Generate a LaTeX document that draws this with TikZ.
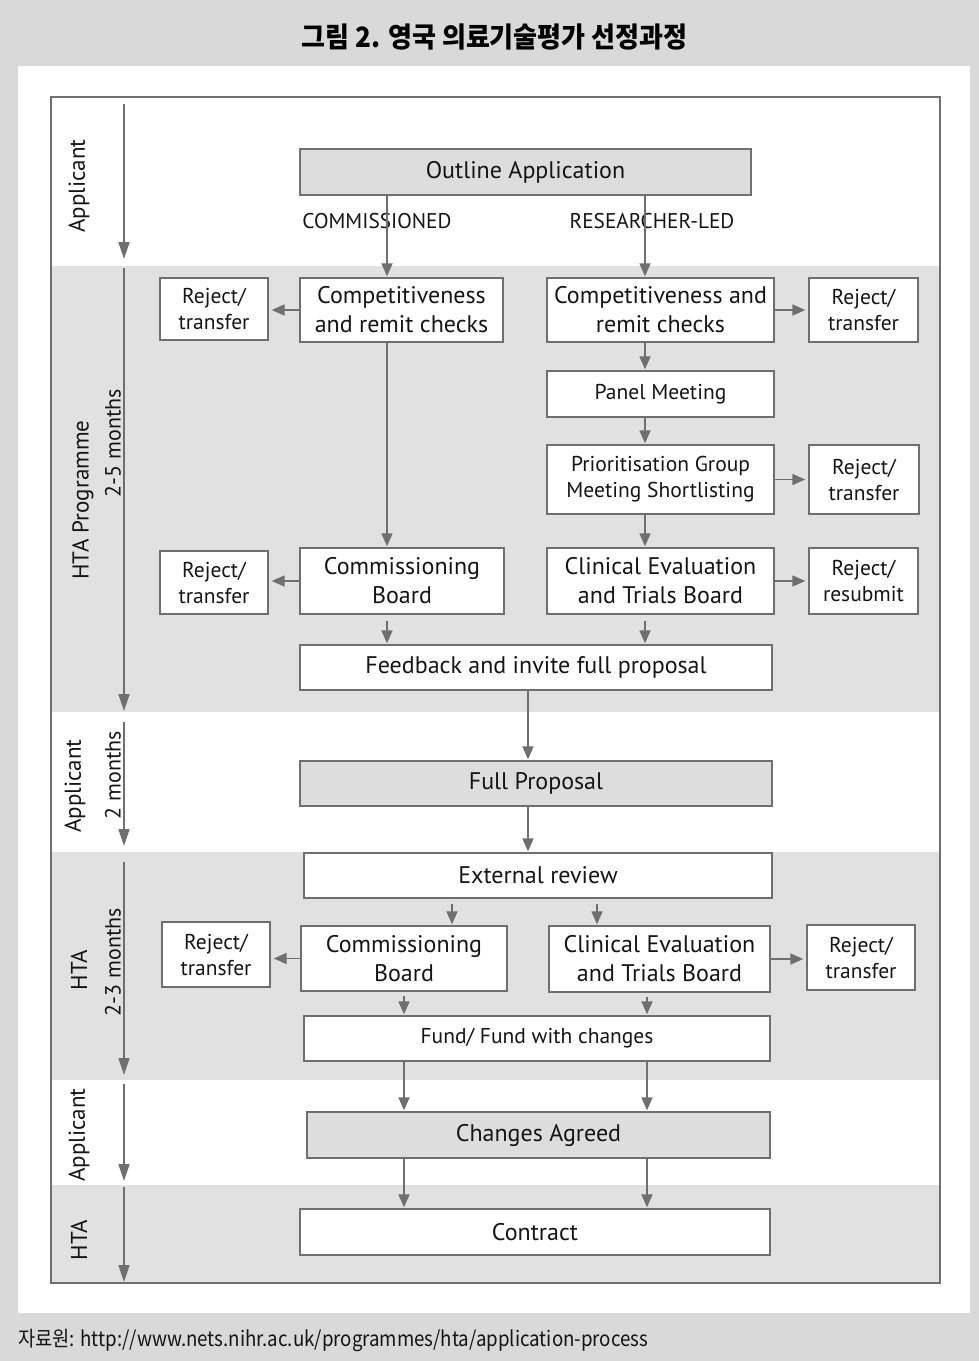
\documentclass[tikz,border=0pt]{standalone}
\usepackage{fontspec}
\setmainfont{PT Sans}
\newfontfamily\kor{Noto Sans CJK KR}
\usetikzlibrary{arrows.meta}
\definecolor{bgc}{HTML}{D9D9D9}
\definecolor{bandc}{HTML}{E1E1E1}
\definecolor{boxg}{HTML}{DDDDDD}
\definecolor{lc}{HTML}{6F6F6F}
\definecolor{txt}{HTML}{151515}
\tikzset{
  box/.style={draw=lc, line width=1.4pt, fill=white, inner sep=0pt, align=center, text=txt,
     font=\fontsize{24}{29}\selectfont},
  gbox/.style={box, fill=boxg},
  sbox/.style={box, font=\fontsize{21.5}{26}\selectfont},
  arr/.style={draw=lc, line width=1.8pt, -{Triangle[length=13pt,width=11pt]}, shorten >=1pt},
  tline/.style={draw=lc, line width=1.6pt, -{Triangle[length=17pt,width=11pt]}},
  lab/.style={rotate=90, text=txt, font=\fontsize{23}{26}\selectfont},
  dur/.style={rotate=90, text=txt, font=\fontsize{22}{24}\selectfont},
  brl/.style={text=txt, font=\fontsize{21.3}{24}\selectfont}
}
\begin{document}
\begin{tikzpicture}[x=1pt,y=-1pt]
\useasboundingbox (0,0) rectangle (979,1361);
\fill[bgc] (0,0) rectangle (979,1361);
\fill[white] (18,66) rectangle (970,1313);
% bands
\fill[bandc] (51,266) rectangle (940,712);
\fill[bandc] (51,852) rectangle (940,1080);
\fill[bandc] (51,1185) rectangle (940,1283);
\draw[lc, line width=1.6pt] (51,97) rectangle (940,1283);

% title and source
\node[font=\kor\bfseries\fontsize{28}{30}\selectfont, text=black] (title) at (494.5,37) {\scalebox{0.93}[1]{그림 2. 영국 의료기술평가 선정과정}};
\node[anchor=west, font=\kor\fontsize{21}{24}\selectfont, text=txt, inner sep=0pt] (src) at (18,1340) {\scalebox{0.89}[1]{자료원: http://www.nets.nihr.ac.uk/programmes/hta/application-process}};

% timeline
\coordinate (t1a) at (124,104); \coordinate (t1b) at (124,259);
\coordinate (t2a) at (124,268); \coordinate (t2b) at (124,711);
\coordinate (t3a) at (124,722); \coordinate (t3b) at (124,846);
\coordinate (t4a) at (124,862); \coordinate (t4b) at (124,1075);
\coordinate (t5a) at (124,1084); \coordinate (t5b) at (124,1181);
\coordinate (t6a) at (124,1187); \coordinate (t6b) at (124,1282);
\draw[tline] (t1a) -- (t1b);
\draw[tline] (t2a) -- (t2b);
\draw[tline] (t3a) -- (t3b);
\draw[tline] (t4a) -- (t4b);
\draw[tline] (t5a) -- (t5b);
\draw[tline] (t6a) -- (t6b);

\node[lab] (l1) at (79,186) {Applicant};
\node[lab] (l2) at (83,500) {HTA Programme};
\node[dur] (d2) at (113,443) {2-5 months};
\node[lab] (l3) at (75,786) {Applicant};
\node[dur] (d3) at (113,775) {2 months};
\node[lab] (l4) at (79,970) {HTA};
\node[dur] (d4) at (113,962) {2-3 months};
\node[lab] (l5) at (79,1135) {Applicant};
\node[lab] (l6) at (79,1240) {HTA};

% boxes
\node[gbox, minimum width=451pt, minimum height=46pt] (outline) at (525.5,172) {Outline Application};
\node[brl] (comm) at (377,221) {COMMISSIONED};
\node[brl] (res) at (652,221) {RESEARCHER-LED};

\node[sbox, minimum width=108pt, minimum height=62pt] (rt1) at (214,309) {Reject/\\transfer};
\node[box, minimum width=203pt, minimum height=64pt] (cr1) at (401.5,310) {Competitiveness\\and remit checks};
\node[box, minimum width=227pt, minimum height=64pt] (cr2) at (660.5,310) {Competitiveness and\\remit checks};
\node[sbox, minimum width=109pt, minimum height=64pt] (rt2) at (863.5,310) {Reject/\\transfer};

\node[sbox, minimum width=227pt, minimum height=46pt] (panel) at (660.5,394) {Panel Meeting};
\node[sbox, minimum width=227pt, minimum height=69pt] (prio) at (660.5,479.5) {Prioritisation Group\\Meeting Shortlisting};
\node[sbox, minimum width=110pt, minimum height=69pt] (rt3) at (864,479.5) {Reject/\\transfer};

\node[sbox, minimum width=108pt, minimum height=63pt] (rt4) at (214,582.5) {Reject/\\transfer};
\node[box, minimum width=204pt, minimum height=66pt] (cb1) at (402,581) {Commissioning\\Board};
\node[box, minimum width=227pt, minimum height=66pt] (ce1) at (660.5,581) {Clinical Evaluation\\and Trials Board};
\node[sbox, minimum width=109pt, minimum height=66pt] (rr) at (863.5,581) {Reject/\\resubmit};

\node[box, minimum width=472pt, minimum height=45pt] (fb) at (536,667.5) {Feedback and invite full proposal};
\node[gbox, minimum width=472pt, minimum height=45pt] (fp) at (536,783.5) {Full Proposal};
\node[box, minimum width=468pt, minimum height=45pt] (er) at (538,875.5) {External review};

\node[sbox, minimum width=108pt, minimum height=65pt] (rt5) at (216,954.5) {Reject/\\transfer};
\node[box, minimum width=206pt, minimum height=65pt] (cb2) at (404,958.5) {Commissioning\\Board};
\node[box, minimum width=221pt, minimum height=66pt] (ce2) at (659.5,959) {Clinical Evaluation\\and Trials Board};
\node[sbox, minimum width=108pt, minimum height=65pt] (rt6) at (861,957.5) {Reject/\\transfer};

\node[sbox, minimum width=466pt, minimum height=45pt] (fund) at (537,1038.5) {Fund/ Fund with changes};
\node[gbox, minimum width=463pt, minimum height=46pt] (ca) at (538.5,1135) {Changes Agreed};
\node[box, minimum width=470pt, minimum height=46pt] (ct) at (535,1232) {Contract};

% x positions for connectors
\coordinate (xL) at (387,0);
\coordinate (xR) at (645,0);
\coordinate (xM) at (528,0);
\coordinate (xL2) at (452,0);
\coordinate (xR2) at (597,0);
\coordinate (xL3) at (404,0);
\coordinate (xR3) at (647,0);

\draw[arr] (outline.south -| xL) -- (cr1.north -| xL);
\draw[arr] (outline.south -| xR) -- (cr2.north -| xR);
\draw[arr, shorten >=3pt] (cr1.west) -- (cr1.west -| rt1.east);
\draw[arr, shorten >=3pt] (cr2.east) -- (cr2.east -| rt2.west);
\draw[arr] (cr1.south -| xL) -- (cb1.north -| xL);
\draw[arr] (cr2.south -| xR) -- (panel.north -| xR);
\draw[arr] (panel.south -| xR) -- (prio.north -| xR);
\draw[arr, shorten >=3pt] (prio.east) -- (prio.east -| rt3.west);
\draw[arr] (prio.south -| xR) -- (ce1.north -| xR);
\draw[arr, shorten >=3pt] (cb1.west) -- (cb1.west -| rt4.east);
\draw[arr, shorten >=3pt] (ce1.east) -- (ce1.east -| rr.west);
\draw[arr, shorten <=6pt] (cb1.south -| xL) -- (fb.north -| xL);
\draw[arr, shorten <=6pt] (ce1.south -| xR) -- (fb.north -| xR);
\draw[arr] (fb.south -| xM) -- (fp.north -| xM);
\draw[arr] (fp.south -| xM) -- (er.north -| xM);
\draw[arr, shorten <=5pt] (er.south -| xL2) -- (cb2.north -| xL2);
\draw[arr, shorten <=5pt] (er.south -| xR2) -- (ce2.north -| xR2);
\draw[arr, shorten >=3pt] (cb2.west) -- (cb2.west -| rt5.east);
\draw[arr, shorten >=3pt] (ce2.east) -- (ce2.east -| rt6.west);
\draw[arr, shorten <=4pt] (cb2.south -| xL3) -- (fund.north -| xL3);
\draw[arr, shorten <=4pt] (ce2.south -| xR3) -- (fund.north -| xR3);
\draw[arr] (fund.south -| xL3) -- (ca.north -| xL3);
\draw[arr] (fund.south -| xR3) -- (ca.north -| xR3);
\draw[arr] (ca.south -| xL3) -- (ct.north -| xL3);
\draw[arr] (ca.south -| xR3) -- (ct.north -| xR3);
\end{tikzpicture}
\end{document}
